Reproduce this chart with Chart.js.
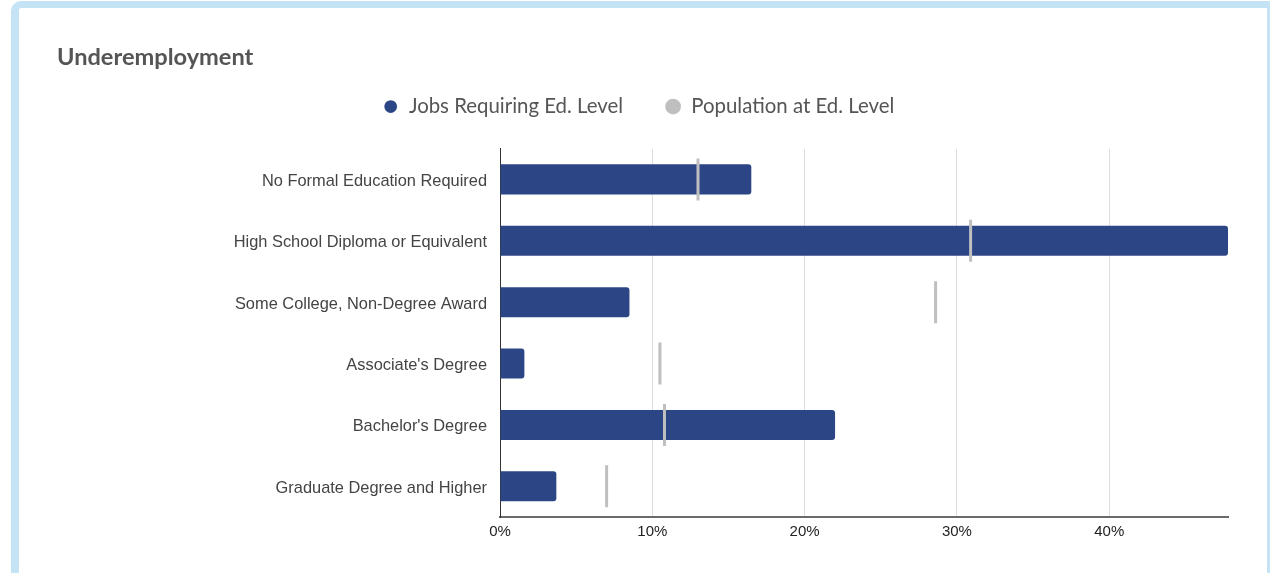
<!DOCTYPE html>
<html>
<head>
<meta charset="utf-8">
<script src="https://cdn.jsdelivr.net/npm/chart.js@4.4.1/dist/chart.umd.min.js"></script>
<style>
  html, body { margin: 0; padding: 0; background: #fff; }
  body { width: 1270px; height: 573px; position: relative; overflow: hidden; }
  .card {
    position: absolute; left: 11px; top: 1px; width: 1264px; height: 600px;
    box-sizing: border-box; border: 8px solid #c4e4f5; border-top-width: 7px;
    border-top-left-radius: 10px; background: #fff;
  }
  #wrap { position: absolute; left: 0; top: 0; width: 1270px; height: 573px; }
</style>
</head>
<body>
<div class="card"></div>
<div id="wrap"><canvas id="chart"></canvas></div>
<script>
// Education levels and shares (percent)
const categories = [
  'No Formal Education Required',
  'High School Diploma or Equivalent',
  'Some College, Non-Degree Award',
  "Associate's Degree",
  "Bachelor's Degree",
  'Graduate Degree and Higher'
];
const jobsRequiring = [16.5, 47.8, 8.5, 1.6, 22.0, 3.7];
const populationAt = [13.0, 30.9, 28.6, 10.5, 10.8, 7.0];
const xTicks = [0, 10, 20, 30, 40];

const navy = '#2c4585';
const grey = '#bfbfbf';

// Leave extra room between the legend and the plot area,
// and nudge the legend row slightly left of the plot's centre
const legendSpacer = {
  id: 'legendSpacer',
  beforeInit(chart) {
    const fit = chart.legend.fit;
    chart.legend.fit = function () {
      fit.call(this);
      this.height += 22;
    };
  },
  afterLayout(chart) {
    chart.legend.left -= 4;
    chart.legend.right -= 4;
  }
};

new Chart(document.getElementById('chart'), {
  type: 'bar',
  plugins: [legendSpacer],
  data: {
    labels: categories,
    datasets: [
      {
        type: 'line',
        label: 'Population at Ed. Level',
        data: populationAt,
        showLine: false,
        pointStyle: 'line',
        rotation: 90,
        radius: 21,
        hoverRadius: 21,
        borderWidth: 3,
        pointBorderWidth: 3,
        borderColor: grey,
        backgroundColor: grey,
        order: 0
      },
      {
        label: 'Jobs Requiring Ed. Level',
        data: jobsRequiring,
        backgroundColor: navy,
        borderColor: navy,
        borderRadius: 3,
        borderSkipped: 'start',
        barPercentage: 0.49,
        categoryPercentage: 1,
        order: 1
      }
    ]
  },
  options: {
    indexAxis: 'y',
    responsive: true,
    maintainAspectRatio: false,
    animation: false,
    layout: { padding: { left: 57, right: 42, top: 43, bottom: 26 } },
    plugins: {
      title: {
        display: true,
        text: 'Underemployment',
        align: 'start',
        color: '#555555',
        font: { family: 'Lato', size: 23.6, weight: 'bold' },
        padding: { top: 0, bottom: -17 }
      },
      legend: {
        display: true,
        position: 'top',
        labels: {
          usePointStyle: true,
          pointStyle: 'circle',
          boxHeight: 9,
          boxWidth: 16,
          padding: 42,
          color: '#555555',
          font: { family: 'Lato', size: 20.4 },
          sort: (a, b) => b.datasetIndex - a.datasetIndex
        }
      },
      tooltip: { enabled: false }
    },
    scales: {
      x: {
        min: 0,
        max: 47.8,
        afterBuildTicks: (scale) => {
          scale.ticks = xTicks.map(v => ({ value: v }));
        },
        ticks: {
          callback: (v) => v + '%',
          color: '#222222',
          font: { family: 'Liberation Sans', size: 15 },
          padding: 6,
          maxRotation: 0
        },
        grid: { color: '#dedede', lineWidth: 1, drawTicks: false },
        border: { display: true, color: '#6a6a6a', width: 2 }
      },
      y: {
        afterFit: (scale) => { scale.width = 500 - 57; },
        ticks: {
          color: '#444444',
          font: { family: 'Liberation Sans', size: 16.4 },
          padding: 13,
          labelOffset: 2
        },
        grid: { display: false, drawTicks: false },
        border: { display: true, color: '#333333', width: 1 }
      }
    }
  }
});
</script>
</body>
</html>
